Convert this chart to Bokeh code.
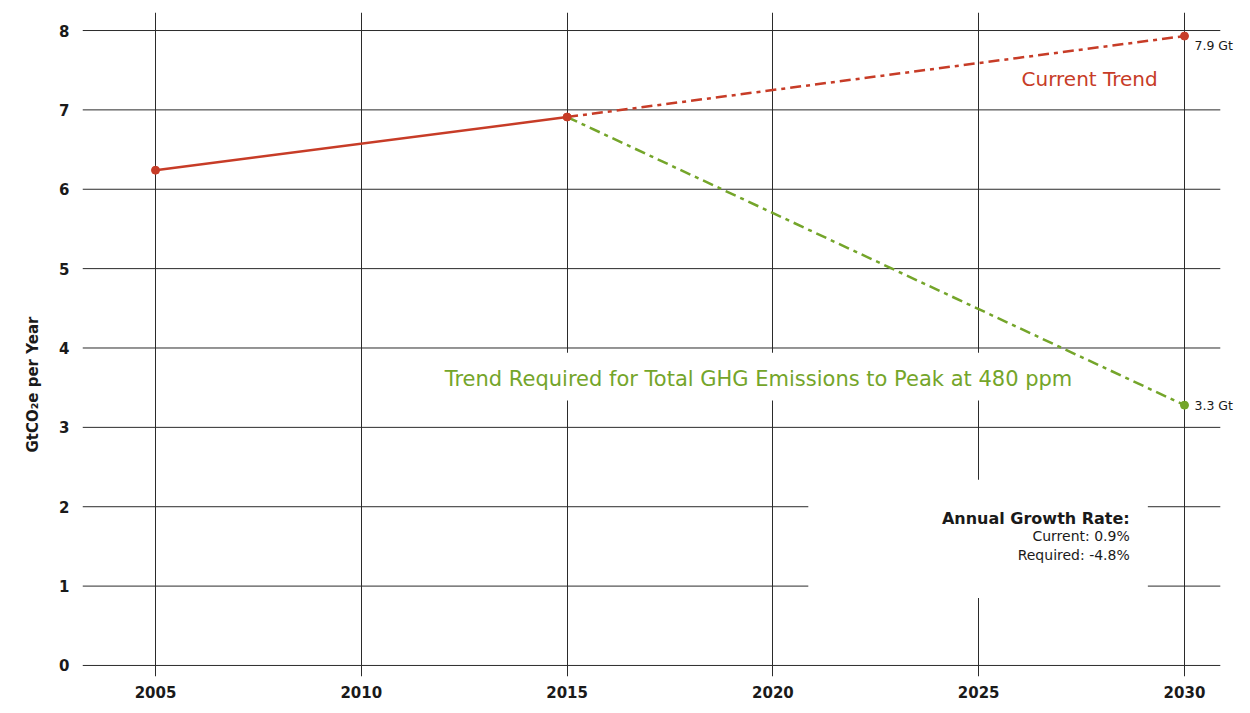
import math
from bokeh.plotting import figure
from bokeh.models import FixedTicker, Label, Title
from bokeh.embed import file_html
from bokeh.resources import INLINE

# ---- data ----
hist_years = [2005, 2015]
hist_values = [6.24, 6.91]
proj_years = [2015, 2030]
current_trend = [6.91, 7.93]
required_trend = [6.91, 3.28]
end_labels = ["7.9 Gt", "3.3 Gt"]
x_ticks = [2005, 2010, 2015, 2020, 2025, 2030]
y_ticks = [0, 1, 2, 3, 4, 5, 6, 7, 8]
growth_title = "Annual Growth Rate:"
growth_lines = ["Current: 0.9%", "Required: -4.8%"]

RED = "#c73c27"
GREEN = "#74a52a"
INK = "#1a1a1a"
GRID = "#2b2b2b"
FONT = "DejaVu Sans"

X_START = 2003.226

p = figure(frame_width=1152, frame_height=664,
           x_range=(X_START, 2031.215), y_range=(-0.139, 8.227),
           output_backend="svg", toolbar_location=None,
           min_border_left=82, min_border_right=0, min_border_top=12,
           min_border_bottom=10)
p.outline_line_color = None
p.background_fill_color = "white"

for ax in (p.xaxis[0], p.yaxis[0]):
    ax.axis_line_color = None
    ax.major_tick_line_color = None
    ax.minor_tick_line_color = None
    ax.major_label_text_font = FONT
    ax.major_label_text_font_style = "bold"
    ax.major_label_text_font_size = "15px"
    ax.major_label_text_color = INK
p.xaxis.ticker = FixedTicker(ticks=x_ticks)
p.yaxis.ticker = FixedTicker(ticks=y_ticks)
p.xaxis.major_label_standoff = 3
p.yaxis.major_label_standoff = 7

p.xgrid.ticker = FixedTicker(ticks=x_ticks)
p.xgrid.grid_line_color = GRID
p.xgrid.grid_line_width = 1
p.ygrid.grid_line_color = None

# horizontal grid lines (end short of the right edge, as in the reference)
grid_x0 = [X_START] * len(y_ticks)
grid_x1 = [2030.87] * len(y_ticks)
p.segment(x0=grid_x0, x1=grid_x1, y0=y_ticks, y1=y_ticks,
          line_color=GRID, line_width=1)

# white panels behind the annotation texts (cover grid lines)
p.quad(left=[2011.87, 2020.86], right=[2027.42, 2029.11],
       bottom=[3.34, 0.85], top=[3.94, 2.34],
       fill_color="white", line_color=None)

# lines
p.line(hist_years, hist_values, line_color=RED, line_width=2.5)
p.line(proj_years, current_trend, line_color=RED, line_width=2.5,
       line_dash="11 5 4 5")
p.line(proj_years, required_trend, line_color=GREEN, line_width=2.5,
       line_dash="11 5 4 5")
p.scatter(proj_years[1:], required_trend[1:], size=8, color=GREEN)
p.scatter(hist_years + proj_years[1:], hist_values + current_trend[1:],
          size=8, color=RED)

# end labels
p.add_layout(Label(x=proj_years[1], y=current_trend[1], text=end_labels[0],
                   x_offset=10, y_offset=-9, text_baseline="middle",
                   text_font=FONT, text_font_size="12.5px", text_color=INK))
p.add_layout(Label(x=proj_years[1], y=required_trend[1], text=end_labels[1],
                   x_offset=10, y_offset=0, text_baseline="middle",
                   text_font=FONT, text_font_size="12.5px", text_color=INK))

# series labels
p.add_layout(Label(x=2029.35, y=7.39, text="Current Trend", text_align="right",
                   text_baseline="middle", text_font=FONT,
                   text_font_size="20px", text_color=RED))
p.add_layout(Label(x=2019.65, y=3.61,
                   text="Trend Required for Total GHG Emissions to Peak at 480 ppm",
                   text_align="center", text_baseline="middle",
                   text_font=FONT, text_font_size="21px", text_color=GREEN))

# growth-rate note
p.add_layout(Label(x=2028.67, y=1.853, text=growth_title, text_align="right",
                   text_baseline="middle", text_font=FONT,
                   text_font_style="bold", text_font_size="16px", text_color=INK))
p.add_layout(Label(x=2028.67, y=1.628, text=growth_lines[0], text_align="right",
                   text_baseline="middle", text_font=FONT,
                   text_font_size="14px", text_color=INK))
p.add_layout(Label(x=2028.67, y=1.39, text=growth_lines[1], text_align="right",
                   text_baseline="middle", text_font=FONT,
                   text_font_size="14px", text_color=INK))

# y axis title
ytitle = Title(text="GtCO₂e per Year", align="left", offset=224,
               text_font=FONT, text_font_style="bold",
               text_font_size="15px", text_color=INK, standoff=30)
p.add_layout(ytitle, "left")

open("out.html", "w").write(file_html(p, INLINE))
